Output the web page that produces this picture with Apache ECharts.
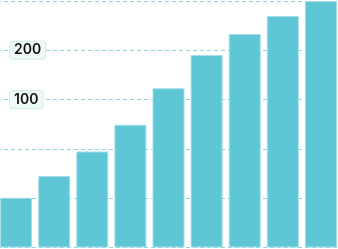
<!DOCTYPE html>
<html>
<head>
<meta charset="utf-8">
<script src="https://cdn.jsdelivr.net/npm/echarts@6/dist/echarts.min.js"></script>
<style>
html,body{margin:0;padding:0;background:#fff;overflow:hidden;width:338px;height:249px;}
#chart{position:absolute;left:-3px;top:0;width:343px;height:249px;}
</style>
</head>
<body>
<div id="chart"></div>
<script>
const categories = ['1', '2', '3', '4', '5', '6', '7', '8', '9'];
const values = [25, 34, 48, 70, 117, 187, 251, 324, 400];
const labelValues = [100, 200];
const axisMin = 12.5;
const axisMax = 400;

const chart = echarts.init(document.getElementById('chart'), null, {renderer: 'canvas'});
chart.setOption({
  animation: false,
  grid: {left: 0, right: 0, top: 1, bottom: 2, containLabel: false},
  xAxis: {
    type: 'category',
    data: categories,
    show: false
  },
  yAxis: {
    type: 'log',
    logBase: 2,
    min: axisMin,
    max: axisMax,
    interval: 1,
    axisLine: {show: false},
    axisTick: {show: false},
    splitLine: {show: true, lineStyle: {color: '#8fd4dd', type: [4, 3], width: 1}},
    axisLabel: {
      inside: true,
      customValues: labelValues,
      margin: 13,
      color: '#111',
      fontFamily: 'Inter',
      fontWeight: 600,
      fontSize: 14,
      backgroundColor: '#eff9f7',
      borderColor: '#d0ede8',
      borderWidth: 1,
      borderRadius: 3,
      padding: [2, 4, 1, 4],
      formatter: v => String(Math.round(v))
    }
  },
  series: [{
    type: 'bar',
    data: values,
    barCategoryGap: '16%',
    itemStyle: {color: '#5fc6d5', borderColor: '#a6dfe7', borderWidth: 1}
  }]
});
</script>
</body>
</html>
